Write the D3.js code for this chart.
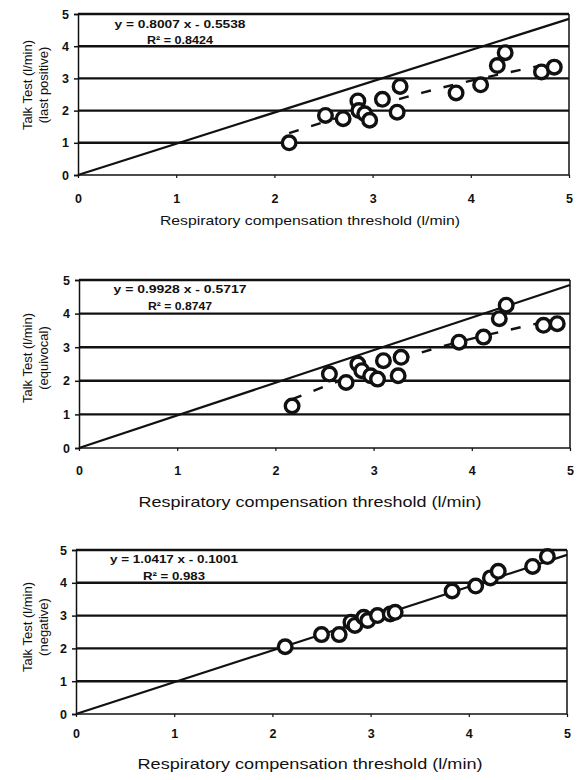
<!DOCTYPE html>
<html>
<head>
<meta charset="utf-8">
<script src="https://cdn.jsdelivr.net/npm/d3@7"></script>
<style>
  body { margin: 0; background: #fff; }
  svg { display: block; }
  text { font-family: "Liberation Sans", Arial, sans-serif; fill: #111; }
</style>
</head>
<body>
<div id="chart"></div>
<script>
// ---- dados ----
const ticks = [0, 1, 2, 3, 4, 5];

const lastPosX = [2.15, 2.52, 2.7, 2.85, 2.86, 2.92, 2.97, 3.1, 3.25, 3.28, 3.85, 4.1, 4.27, 4.35, 4.72, 4.85];
const lastPosY = [1.0, 1.85, 1.75, 2.3, 2.0, 1.9, 1.7, 2.35, 1.95, 2.75, 2.55, 2.8, 3.4, 3.8, 3.2, 3.35];

const equivX = [2.17, 2.55, 2.72, 2.84, 2.88, 2.97, 3.04, 3.1, 3.25, 3.28, 3.87, 4.12, 4.28, 4.35, 4.73, 4.87];
const equivY = [1.25, 2.2, 1.95, 2.5, 2.3, 2.15, 2.05, 2.6, 2.15, 2.7, 3.15, 3.3, 3.85, 4.25, 3.65, 3.7];

const negX = [2.13, 2.5, 2.68, 2.8, 2.84, 2.93, 2.97, 3.07, 3.2, 3.25, 3.83, 4.07, 4.22, 4.3, 4.65, 4.8];
const negY = [2.05, 2.42, 2.42, 2.8, 2.7, 2.95, 2.85, 3.0, 3.05, 3.1, 3.75, 3.9, 4.15, 4.35, 4.5, 4.8];

// linha solida (identidade) e linhas de tendencia tracejadas
const identityLine = [[0, 0], [5, 4.85]];
const trendLastPos = [[2.15, 1.3], [3.5, 2.55], [4.8, 3.45]];
const trendEquiv = [[2.17, 1.45], [3.47, 2.83], [4.85, 3.82]];

const equations = [
  ["y = 0.8007 x - 0.5538", "R² = 0.8424"],
  ["y = 0.9928 x - 0.5717", "R² = 0.8747"],
  ["y = 1.0417 x - 0.1001", "R² = 0.983"]
];
const yTitles = [
  ["Talk Test (l/min)", "(last positive)"],
  ["Talk Test (l/min)", "(equivocal)"],
  ["Talk Test (l/min)", "(negative)"]
];
const xTitle = "Respiratory compensation threshold (l/min)";

// ---- layout de cada painel ----
const paineis = [
  { xs: lastPosX, ys: lastPosY, trend: trendLastPos, left: 78, right: 569, top: 14, bottom: 175,
    tickY: 199, titleY: 225, titleW: 300, titleSize: 13, eqX: 180, eqY: [28, 44], eqW: [131, 66], yTitleY: 85 },
  { xs: equivX, ys: equivY, trend: trendEquiv, left: 79, right: 570, top: 280, bottom: 448,
    tickY: 471, titleY: 507, titleW: 343, titleSize: 15, eqX: 180, eqY: [293, 310], eqW: [133, 64], yTitleY: 358 },
  { xs: negX, ys: negY, trend: null, left: 76, right: 567, top: 550, bottom: 714,
    tickY: 734, titleY: 769, titleW: 345, titleSize: 15, eqX: 174, eqY: [563, 580], eqW: [128, 62], yTitleY: 627 }
];

const svg = d3.select("#chart").append("svg")
  .attr("width", 578).attr("height", 780);

svg.append("rect").attr("width", 578).attr("height", 780).attr("fill", "#fff");

paineis.forEach((p, idx) => {
  const x = d3.scaleLinear().domain([0, 5]).range([p.left, p.right]);
  const y = d3.scaleLinear().domain([0, 5]).range([p.bottom, p.top]);
  const g = svg.append("g");

  // grade horizontal
  g.selectAll(".grade").data(ticks).enter().append("line")
    .attr("x1", p.left).attr("x2", p.right)
    .attr("y1", d => y(d)).attr("y2", d => y(d))
    .attr("stroke", "#111").attr("stroke-width", d => d === 0 ? 1.5 : 2.4);

  // borda direita
  g.append("line").attr("x1", p.right).attr("x2", p.right)
    .attr("y1", p.top).attr("y2", p.bottom)
    .attr("stroke", "#111").attr("stroke-width", 1.5);

  // eixos
  const eixoY = g.append("g").attr("transform", `translate(${p.left},0)`)
    .call(d3.axisLeft(y).tickValues(ticks).tickFormat(d3.format("d")).tickSize(4).tickPadding(5));
  eixoY.select(".domain").attr("stroke", "#111").attr("stroke-width", 1.5);
  eixoY.selectAll(".tick line").attr("stroke", "#111").attr("stroke-width", 1.5);
  eixoY.selectAll("text").attr("font-size", 12.5).attr("font-weight", "bold")
    .attr("font-family", "'Liberation Sans', Arial, sans-serif").attr("fill", "#111");

  const eixoX = g.append("g").attr("transform", `translate(0,${p.bottom})`)
    .call(d3.axisBottom(x).tickValues(ticks).tickFormat(d3.format("d")).tickSize(3).tickPadding(0));
  eixoX.select(".domain").remove();
  eixoX.selectAll(".tick line").attr("stroke", "#111").attr("stroke-width", 1.2);
  eixoX.selectAll("text").attr("font-size", 12.5).attr("font-weight", "bold")
    .attr("font-family", "'Liberation Sans', Arial, sans-serif").attr("fill", "#111")
    .attr("y", p.tickY - p.bottom).attr("dy", "0.35em");

  // linha de identidade
  const linha = d3.line().x(d => x(d[0])).y(d => y(d[1]));
  g.append("path").attr("d", linha(identityLine))
    .attr("fill", "none").attr("stroke", "#111").attr("stroke-width", 2.2);

  // tendencia tracejada
  if (p.trend) {
    g.append("path").attr("d", linha.curve(d3.curveNatural)(p.trend))
      .attr("fill", "none").attr("stroke", "#111").attr("stroke-width", 2.4)
      .attr("stroke-dasharray", "10,13");
  }

  // pontos
  g.selectAll(".ponto").data(p.xs.map((v, i) => [v, p.ys[i]])).enter().append("circle")
    .attr("class", "ponto")
    .attr("cx", d => x(d[0])).attr("cy", d => y(d[1]))
    .attr("r", 6.8)
    .attr("fill", "#fff").attr("stroke", "#111").attr("stroke-width", 3.4);

  // equacao
  g.selectAll(".eq").data(equations[idx]).enter().append("text")
    .attr("x", p.eqX).attr("y", (d, i) => p.eqY[i])
    .attr("text-anchor", "middle").attr("font-size", 10.5).attr("font-weight", "bold")
    .attr("textLength", (d, i) => p.eqW[i]).attr("lengthAdjust", "spacingAndGlyphs")
    .text(d => d);

  // titulo eixo x
  g.append("text")
    .attr("x", 310).attr("y", p.titleY)
    .attr("text-anchor", "middle").attr("font-size", p.titleSize)
    .attr("textLength", p.titleW).attr("lengthAdjust", "spacingAndGlyphs")
    .text(xTitle);

  // titulo eixo y (duas linhas)
  const ty = g.append("text")
    .attr("transform", `translate(27,${p.yTitleY}) rotate(-90)`)
    .attr("text-anchor", "middle").attr("font-size", 13);
  ty.selectAll("tspan").data(yTitles[idx]).enter().append("tspan")
    .attr("x", 0).attr("dy", (d, i) => i === 0 ? "0.35em" : "1.25em")
    .text(d => d);
});
</script>
</body>
</html>
